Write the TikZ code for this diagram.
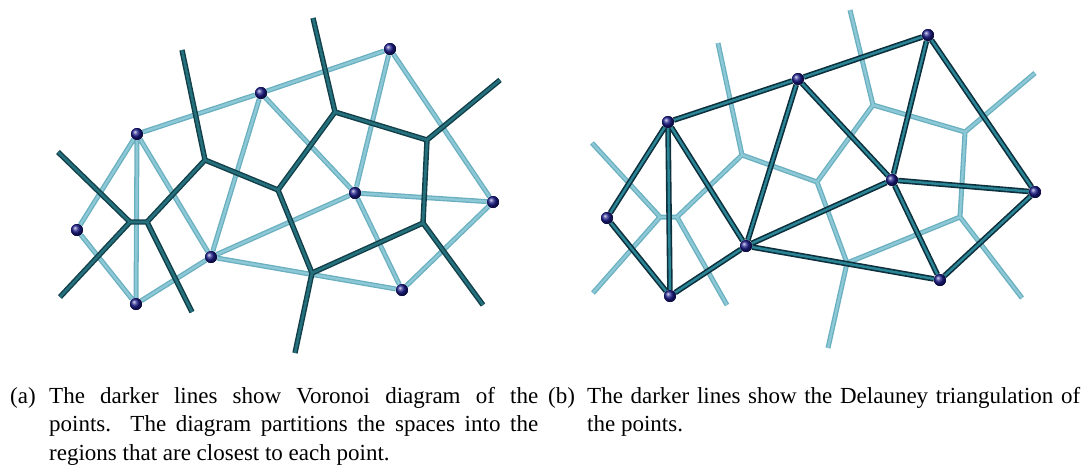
\documentclass[tikz,border=0pt]{standalone}
\usepackage{fontspec}
\setmainfont{Liberation Serif}
\definecolor{darkout}{HTML}{123E48}
\definecolor{darkin}{HTML}{24707C}
\definecolor{delout}{HTML}{0E2F3C}
\definecolor{delin}{HTML}{2A8696}
\definecolor{lightout}{HTML}{6AAFBF}
\definecolor{lightin}{HTML}{8CC8D5}
\definecolor{ptcol}{HTML}{1C1C8C}
\begin{document}
\begin{tikzpicture}[x=1pt,y=-1pt,
  pt/.style={circle,inner sep=0pt,minimum size=12pt,shading=ball,ball color=ptcol},
  voro/.style={line join=round,draw=darkin,line width=2.6pt,preaction={draw=darkout,line width=5.4pt,line join=round}},
  dela/.style={line join=round,draw=delin,line width=2.4pt,preaction={draw=delout,line width=5.6pt,line join=round}},
  light/.style={line join=round,draw=lightin,line width=2.4pt,preaction={draw=lightout,line width=5pt,line join=round}},
  captext/.style={inner sep=0pt,font=\fontsize{23}{28.5}\selectfont}]
\useasboundingbox (0,0) rectangle (1089,467);
% ---------- left: Voronoi ----------
\node[pt] (p1) at (137,134) {};
\node[pt] (p2) at (261,93) {};
\node[pt] (p3) at (390,49) {};
\node[pt] (p4) at (77,230) {};
\node[pt] (p5) at (211,257) {};
\node[pt] (p6) at (136,304) {};
\node[pt] (p7) at (355,193) {};
\node[pt] (p8) at (493,202) {};
\node[pt] (p9) at (402,290) {};
\coordinate (v1) at (130,222);
\coordinate (v2) at (147,222);
\coordinate (v3) at (205,160);
\coordinate (v4) at (278,190);
\coordinate (v5) at (335,112);
\coordinate (v6) at (427,140);
\coordinate (v7) at (423,223);
\coordinate (v8) at (312,273);
\coordinate (r1) at (58,152);
\coordinate (r2) at (60,297);
\coordinate (r3) at (192,312);
\coordinate (r4) at (182,50);
\coordinate (r5) at (313,18);
\coordinate (r6) at (500,80);
\coordinate (r7) at (483,305);
\coordinate (r8) at (295,353);
\path[light] (p1)--(p2) (p2)--(p3) (p1)--(p4) (p1)--(p6) (p1)--(p5) (p4)--(p6)
  (p6)--(p5) (p5)--(p2) (p2)--(p7) (p3)--(p7) (p3)--(p8) (p7)--(p8)
  (p5)--(p7) (p5)--(p9) (p7)--(p9) (p9)--(p8);
\path[voro] (r1)--(v1)--(r2) (v1)--(v2)--(v3)--(v4)--(v5)--(v6)--(v7)--(v8)--(v4)
  (v2)--(r3) (v3)--(r4) (v5)--(r5) (v6)--(r6) (v7)--(r7) (v8)--(r8);
\foreach \n in {p1,p2,p3,p4,p5,p6,p7,p8,p9} {\node[pt] at (\n) {};}
% ---------- right: Delaunay ----------
\node[pt] (q1) at (668,122) {};
\node[pt] (q2) at (798,79) {};
\node[pt] (q3) at (928,35) {};
\node[pt] (q4) at (607,218) {};
\node[pt] (q5) at (746,246) {};
\node[pt] (q6) at (670,296) {};
\node[pt] (q7) at (892,180) {};
\node[pt] (q8) at (1035,192) {};
\node[pt] (q9) at (940,280) {};
\coordinate (w1) at (660,217);
\coordinate (w2) at (677,217);
\coordinate (w3) at (742,155);
\coordinate (w4) at (817,182);
\coordinate (w5) at (873,105);
\coordinate (w6) at (965,132);
\coordinate (w7) at (960,217);
\coordinate (w8) at (847,263);
\coordinate (s1) at (592,143);
\coordinate (s2) at (593,293);
\coordinate (s3) at (727,305);
\coordinate (s4) at (718,43);
\coordinate (s5) at (850,10);
\coordinate (s6) at (1035,73);
\coordinate (s7) at (1022,298);
\coordinate (s8) at (828,348);
\path[light] (s1)--(w1)--(s2) (w1)--(w2)--(w3)--(w4)--(w5)--(w6)--(w7)--(w8)--(w4)
  (w2)--(s3) (w3)--(s4) (w5)--(s5) (w6)--(s6) (w7)--(s7) (w8)--(s8);
\path[dela] (q1)--(q2) (q2)--(q3) (q1)--(q4) (q1)--(q6) (q1)--(q5) (q4)--(q6)
  (q6)--(q5) (q5)--(q2) (q2)--(q7) (q3)--(q7) (q3)--(q8) (q7)--(q8)
  (q5)--(q7) (q5)--(q9) (q7)--(q9) (q9)--(q8);
\foreach \n in {q1,q2,q3,q4,q5,q6,q7,q8,q9} {\node[pt] at (\n) {};}
% ---------- captions ----------
\node[captext,anchor=base west] (la) at (10,403) {(a)};
\node[captext,anchor=base west,text width=489pt,align=justify] (ta) at (49,403)
  {The darker lines show Voronoi diagram of the\linebreak points. The diagram partitions the spaces into the\linebreak regions that are closest to each point.};
\node[captext,anchor=base west] (lb) at (548,403) {(b)};
\node[captext,anchor=base west,text width=493pt,align=justify] (tb) at (587,403)
  {The darker lines show the Delauney triangulation of\linebreak the points.};
\end{tikzpicture}
\end{document}
